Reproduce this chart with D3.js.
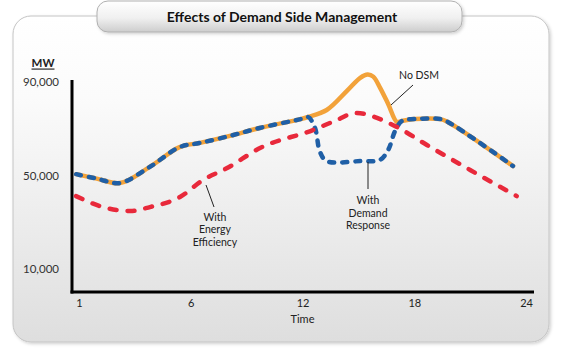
<!DOCTYPE html>
<html>
<head>
<meta charset="utf-8">
<script src="https://cdn.jsdelivr.net/npm/d3@7"></script>
<style>
  html, body { margin: 0; padding: 0; background: #ffffff; }
  svg { display: block; font-family: Lato, "Open Sans", sans-serif; }
</style>
</head>
<body>
<svg id="chart" width="563" height="355"></svg>
<script>
// ---------------- data ----------------
const chartTitle = "Effects of Demand Side Management";
const xTickValues = [0, 6, 12, 18, 24];
const xTickLabels = ["1", "6", "12", "18", "24"];
const yTickValues = [10000, 50000, 90000];

// No DSM (solid orange)
const noDsmHours = [-0.15, 1.0, 2.2, 3.8, 5.4, 6.5, 8.1, 9.7, 11.9, 12.3, 13.3, 14.4, 15.1, 15.5, 15.8, 16.16, 16.6, 17.07, 17.34, 18.0, 19.4, 19.8, 23.3];
const noDsmMW    = [50500, 48500, 46700, 53600, 62100, 63900, 66900, 70300, 74100, 75000, 78000, 86300, 91800, 93200, 92300, 87600, 80600, 72900, 73300, 74100, 74100, 72900, 54000];

// With Demand Response (blue dashed)
const drHours = [-0.15, 1.0, 2.2, 3.8, 5.4, 6.5, 8.1, 9.7, 11.9, 12.3, 12.67, 12.94, 13.3, 15.1, 16.16, 16.6, 16.97, 17.34, 18.0, 19.4, 19.8, 23.3];
const drMW    = [50500, 48500, 46700, 53600, 62100, 63900, 66900, 70300, 74100, 75000, 70300, 60000, 56100, 56100, 56600, 60900, 69000, 73300, 74100, 74100, 72900, 54000];

// With Energy Efficiency (red dashed)
const eeHours = [-0.16, 1.29, 2.74, 3.81, 5.42, 6.66, 7.95, 9.72, 12.56, 13.85, 14.82, 15.36, 16.0, 17.07, 18.68, 21.0, 23.5];
const eeMW    = [41100, 36400, 34700, 36400, 40700, 48000, 53100, 61700, 69400, 73700, 76700, 76300, 74600, 70700, 63000, 52300, 41100];

// ---------------- drawing ----------------
const svg = d3.select("#chart");
const defs = svg.append("defs");

const panelGrad = defs.append("linearGradient").attr("id", "panelGrad")
  .attr("x1", 0).attr("y1", 0).attr("x2", 0).attr("y2", 1);
panelGrad.append("stop").attr("offset", "0%").attr("stop-color", "#ffffff");
panelGrad.append("stop").attr("offset", "25%").attr("stop-color", "#fbfbfb");
panelGrad.append("stop").attr("offset", "100%").attr("stop-color", "#dedede");

const titleGrad = defs.append("linearGradient").attr("id", "titleGrad")
  .attr("x1", 0).attr("y1", 0).attr("x2", 0).attr("y2", 1);
titleGrad.append("stop").attr("offset", "0%").attr("stop-color", "#ffffff");
titleGrad.append("stop").attr("offset", "55%").attr("stop-color", "#f0f0f0");
titleGrad.append("stop").attr("offset", "100%").attr("stop-color", "#cdcdcd");

const shadow = defs.append("filter").attr("id", "shadow")
  .attr("x", "-5%").attr("y", "-5%").attr("width", "115%").attr("height", "130%");
shadow.append("feDropShadow").attr("dx", 1.5).attr("dy", 1.5).attr("stdDeviation", 1.5)
  .attr("flood-color", "#000").attr("flood-opacity", 0.18);

// panel
svg.append("rect")
  .attr("x", 13).attr("y", 16).attr("width", 536).attr("height", 326)
  .attr("rx", 18).attr("ry", 18)
  .attr("fill", "url(#panelGrad)")
  .attr("stroke", "#c4c4c4").attr("stroke-width", 1)
  .attr("filter", "url(#shadow)");

// title box
svg.append("rect")
  .attr("x", 97).attr("y", 1).attr("width", 365).attr("height", 31)
  .attr("rx", 11).attr("ry", 11)
  .attr("fill", "url(#titleGrad)")
  .attr("stroke", "#b0b0b0").attr("stroke-width", 1)
  .attr("filter", "url(#shadow)");

svg.append("text")
  .attr("x", 282).attr("y", 16.5)
  .attr("text-anchor", "middle").attr("dominant-baseline", "central")
  .attr("font-size", 14).attr("font-weight", "bold").attr("fill", "#111")
  .text(chartTitle);

// scales
const x = d3.scaleLinear().domain([0, 24]).range([79, 526]);
const y = d3.scaleLinear().domain([0, 90000]).range([292, 82]);

// axes
const xAxis = svg.append("g").attr("transform", `translate(0,${y(0)})`)
  .call(d3.axisBottom(x).tickValues(xTickValues)
    .tickFormat((d, i) => xTickLabels[i]).tickSize(0).tickPadding(7));
xAxis.select(".domain").remove();
xAxis.selectAll("text").attr("font-size", 11).attr("fill", "#222")
  .attr("font-family", "Lato, sans-serif");

const yAxis = svg.append("g").attr("transform", `translate(${x(0) - 7},0)`)
  .call(d3.axisLeft(y).tickValues(yTickValues).tickFormat(d3.format(","))
    .tickSize(0).tickPadding(13));
yAxis.select(".domain").remove();
yAxis.selectAll("text").attr("font-size", 11.5).attr("fill", "#333")
  .attr("font-family", "Lato, sans-serif");

// axis lines
svg.append("line")
  .attr("x1", x(0) - 7).attr("x2", x(0) - 7)
  .attr("y1", y(90000) - 2).attr("y2", y(0) + 1.5)
  .attr("stroke", "#000").attr("stroke-width", 3);
svg.append("line")
  .attr("x1", x(0) - 8.5).attr("x2", x(24) + 8)
  .attr("y1", y(0)).attr("y2", y(0))
  .attr("stroke", "#000").attr("stroke-width", 3);

// axis titles
svg.append("text").attr("x", 43).attr("y", 62)
  .attr("text-anchor", "middle").attr("dominant-baseline", "central")
  .attr("font-size", 11.5).attr("font-weight", "bold").attr("fill", "#222")
  .attr("text-decoration", "underline")
  .text("MW");
svg.append("text").attr("x", x(12)).attr("y", 318)
  .attr("text-anchor", "middle").attr("dominant-baseline", "central")
  .attr("font-size", 11).attr("fill", "#222")
  .text("Time");

// lines
const line = d3.line()
  .x(d => x(d[0])).y(d => y(d[1]))
  .curve(d3.curveMonotoneX);
const lineCR = d3.line().x(d => x(d[0])).y(d => y(d[1])).curve(d3.curveCatmullRom.alpha(0.5));

const noDsm = noDsmHours.map((h, i) => [h, noDsmMW[i]]);
const dr = drHours.map((h, i) => [h, drMW[i]]);
const ee = eeHours.map((h, i) => [h, eeMW[i]]);

svg.append("path").attr("d", lineCR(noDsm))
  .attr("fill", "none").attr("stroke", "#f2a23a").attr("stroke-width", 4.5)
  .attr("stroke-linejoin", "round").attr("stroke-linecap", "round");

svg.append("path").attr("d", lineCR(dr))
  .attr("fill", "none").attr("stroke", "#1f5fa6").attr("stroke-width", 4.5)
  .attr("stroke-dasharray", "5,8")
  .attr("stroke-linejoin", "round").attr("stroke-linecap", "round");

svg.append("path").attr("d", line(ee))
  .attr("fill", "none").attr("stroke", "#e8293b").attr("stroke-width", 4.5)
  .attr("stroke-dasharray", "7,11")
  .attr("stroke-linejoin", "round").attr("stroke-linecap", "round");

// annotations
function annot(lines, cx, cy, lh) {
  lines.forEach((s, i) => {
    svg.append("text").attr("text-anchor", "middle")
      .attr("font-size", 10.5).attr("fill", "#222")
      .attr("x", cx).attr("y", cy + i * lh)
      .attr("dominant-baseline", "central").text(s);
  });
}
// No DSM
svg.append("line").attr("x1", 413).attr("y1", 85).attr("x2", 391).attr("y2", 105)
  .attr("stroke", "#222").attr("stroke-width", 1);
annot(["No DSM"], 419, 75, 12);

// With Demand Response
svg.append("line").attr("x1", 368).attr("y1", 162).attr("x2", 368).attr("y2", 189)
  .attr("stroke", "#222").attr("stroke-width", 1);
annot(["With", "Demand", "Response"], 368, 200, 12.6);

// With Energy Efficiency
svg.append("line").attr("x1", 206).attr("y1", 185).attr("x2", 214).attr("y2", 207)
  .attr("stroke", "#222").attr("stroke-width", 1);
annot(["With", "Energy", "Efficiency"], 215, 216.5, 12.6);
</script>
</body>
</html>
